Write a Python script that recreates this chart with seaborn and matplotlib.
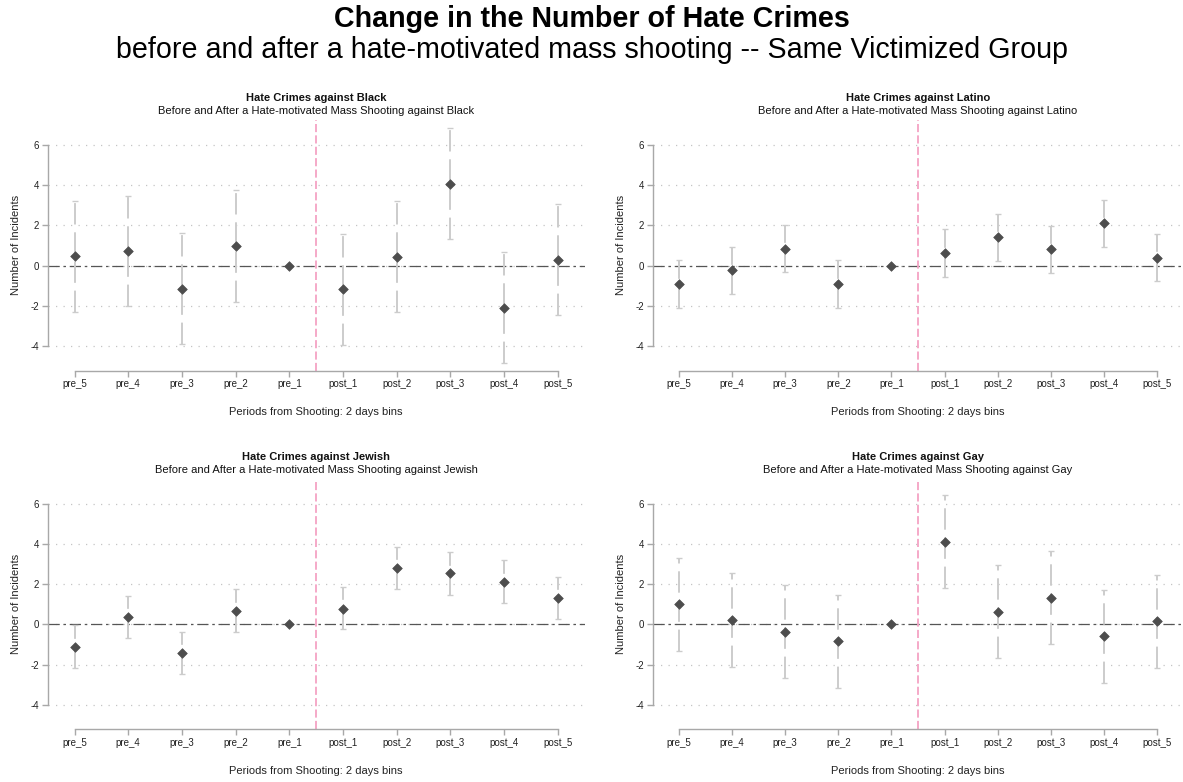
import numpy as np
import pandas as pd
import matplotlib
matplotlib.use("Agg")
import matplotlib.pyplot as plt
import seaborn as sns

# Event-study estimates: coefficient and 95% CI per 2-day bin
periods = ["pre_5", "pre_4", "pre_3", "pre_2", "pre_1",
           "post_1", "post_2", "post_3", "post_4", "post_5"]
groups = ["Black", "Latino", "Jewish", "Gay"]

black_coef = [0.47, 0.72, -1.14, 0.97, 0.0, -1.17, 0.44, 4.08, -2.08, 0.30]
black_lo = [-2.29, -2.01, -3.90, -1.79, np.nan, -3.92, -2.31, 1.32, -4.83, -2.46]
black_hi = [3.23, 3.48, 1.61, 3.74, np.nan, 1.59, 3.20, 6.84, 0.66, 3.05]

latino_coef = [-0.92, -0.22, 0.84, -0.90, 0.0, 0.64, 1.41, 0.83, 2.12, 0.39]
latino_lo = [-2.08, -1.40, -0.32, -2.08, np.nan, -0.54, 0.24, -0.34, 0.95, -0.78]
latino_hi = [0.27, 0.95, 2.02, 0.28, np.nan, 1.83, 2.58, 1.99, 3.28, 1.57]

jewish_coef = [-1.11, 0.38, -1.40, 0.68, 0.0, 0.79, 2.81, 2.55, 2.13, 1.32]
jewish_lo = [-2.15, -0.66, -2.46, -0.38, np.nan, -0.25, 1.77, 1.49, 1.07, 0.26]
jewish_hi = [-0.03, 1.44, -0.36, 1.74, np.nan, 1.87, 3.85, 3.60, 3.21, 2.38]

gay_coef = [1.01, 0.23, -0.38, -0.84, 0.0, 4.10, 0.64, 1.32, -0.60, 0.15]
gay_lo = [-1.31, -2.10, -2.69, -3.16, np.nan, 1.80, -1.67, -0.99, -2.91, -2.18]
gay_hi = [3.32, 2.56, 1.95, 1.47, np.nan, 6.45, 2.96, 3.64, 1.72, 2.46]

yticks = [-4, -2, 0, 2, 4, 6]

series = {
    "Black": (black_coef, black_lo, black_hi),
    "Latino": (latino_coef, latino_lo, latino_hi),
    "Jewish": (jewish_coef, jewish_lo, jewish_hi),
    "Gay": (gay_coef, gay_lo, gay_hi),
}

sns.set_theme(style="white")
plt.rcParams["font.family"] = ["Liberation Sans", "DejaVu Sans"]
plt.rcParams["axes.unicode_minus"] = False

W, H = 1183, 782
fig = plt.figure(figsize=(W / 100, H / 100), dpi=100)

# axes rectangles in pixels: (left, top, width, height)
rects = {
    "Black": (47.7, 120, 537, 250.7),
    "Latino": (652.5, 120, 531, 250.7),
    "Jewish": (47.7, 479, 537, 250.3),
    "Gay": (652.5, 479, 531, 250.3),
}

POINT = "#4d4d4d"
BAR = "#cccccc"
SPINE = "#a8a8a8"
PINK = "#f4a3c4"

for g in groups:
    l, t, w, h = rects[g]
    ax = fig.add_axes([l / W, 1 - (t + h) / H, w / W, h / H])
    coef, lo, hi = series[g]
    df = pd.DataFrame({"period": periods, "coef": coef, "lo": lo, "hi": hi})
    df["pos"] = np.arange(len(periods))

    # dotted horizontal grid and the zero reference line
    for yv in yticks:
        ax.axhline(yv, color="#c4c4c4", lw=0.9, ls=(0, (1, 5)), zorder=0)
    ax.axhline(0, color="#555555", lw=0.9, ls=(0, (9, 3, 2, 3)), zorder=1)

    # confidence intervals (the omitted reference bin has none)
    ci = df.dropna(subset=["lo", "hi"])
    eb = ax.errorbar(ci["pos"], ci["coef"],
                     yerr=[ci["coef"] - ci["lo"], ci["hi"] - ci["coef"]],
                     fmt="none", ecolor=BAR, elinewidth=1.4,
                     capsize=1.9, capthick=1.0, zorder=2)
    eb[2][0].set_linestyle((0, (11, 4)))

    sns.scatterplot(data=df, x="pos", y="coef", marker="D", s=24,
                    color=POINT, edgecolor=POINT, linewidth=0.5,
                    ax=ax, zorder=3, legend=False)

    ax.axvline(4.5, color=PINK, lw=1.3, ls=(0, (4.5, 1.8)), zorder=1)

    ax.set_xlim(-0.5, 9.5)
    ax.set_ylim(-5.22, 7.24)
    ax.set_yticks(yticks)
    ax.set_yticklabels([str(v) for v in yticks])
    ax.set_xticks(df["pos"])
    ax.set_xticklabels(periods)

    for side in ("top", "right"):
        ax.spines[side].set_visible(False)
    for side in ("left", "bottom"):
        ax.spines[side].set_color(SPINE)
        ax.spines[side].set_linewidth(1.0)
    ax.spines["left"].set_bounds(-4, 6)
    ax.spines["bottom"].set_bounds(0, 9)
    ax.tick_params(axis="both", which="both", length=4, width=1.0,
                   color=SPINE, labelsize=7, labelcolor="#222222", pad=2,
                   left=True, bottom=True)
    ax.grid(False)

    ax.set_ylabel("Number of Incidents", fontsize=8, color="#222222", labelpad=7)
    ax.set_xlabel("Periods from Shooting: 2 days bins", fontsize=8,
                  color="#222222", labelpad=13)

    ax.annotate(f"Hate Crimes against {g}", xy=(0.5, 1), xycoords="axes fraction",
                xytext=(0, 16), textcoords="offset points", ha="center",
                va="center", fontsize=8, fontweight="bold", color="#111111")
    ax.annotate(f"Before and After a Hate-motivated Mass Shooting against {g}",
                xy=(0.5, 1), xycoords="axes fraction", xytext=(0, 6.5),
                textcoords="offset points", ha="center", va="center",
                fontsize=8, color="#111111")

fig.text(0.5, 1 - 19 / H, "Change in the Number of Hate Crimes", ha="center",
         va="center", fontsize=20.6, fontweight="bold", color="#000000")
fig.text(0.5, 1 - 50 / H,
         "before and after a hate-motivated mass shooting -- Same Victimized Group",
         ha="center", va="center", fontsize=20.6, color="#000000")

fig.savefig("out.png", dpi=100, facecolor="white")
